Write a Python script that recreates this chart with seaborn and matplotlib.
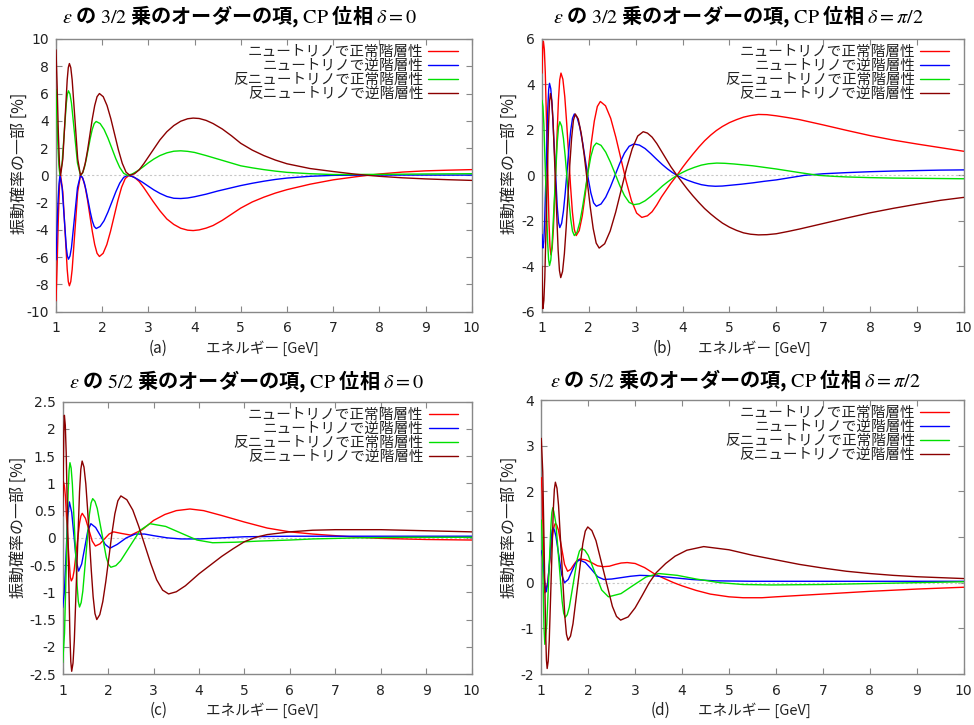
import numpy as np
import pandas as pd
import matplotlib
matplotlib.use("Agg")
import matplotlib.pyplot as plt
from matplotlib.ticker import FuncFormatter
import seaborn as sns

# ---------------- data (energy [GeV], part of oscillation probability [%]) -------------
# panel (a): eps^{3/2}, delta = 0
a_red_E = [1.00, 1.025, 1.05, 1.075, 1.10, 1.1475, 1.195, 1.2425, 1.266, 1.29, 1.32, 1.35, 1.41, 1.47, 1.53, 1.581, 1.633, 1.684, 1.735, 1.786, 1.838, 1.889, 1.94, 2.02, 2.10, 2.18, 2.26, 2.34, 2.42, 2.50, 2.58, 2.7, 2.8, 2.9, 3.0, 3.1, 3.25, 3.4, 3.55, 3.7, 3.85, 3.97, 4.1, 4.25, 4.4, 4.6, 4.8, 5.0, 5.25, 5.5, 5.75, 6.0, 6.5, 7.0, 7.5, 7.75, 8.0, 8.5, 9.0, 9.5, 10.0]
a_red_P = [-9.2, -6.5, -3.2, -0.8, 0.0, -1.2, -4.05, -6.9, -7.79, -8.1, -7.79, -6.9, -4.05, -1.2, 0.0, -0.23, -0.87, -1.84, -2.98, -4.11, -5.08, -5.72, -5.95, -5.72, -5.08, -4.11, -2.98, -1.84, -0.87, -0.23, 0.0, -0.15, -0.45, -0.9, -1.4, -1.9, -2.6, -3.2, -3.6, -3.88, -4.02, -4.05, -4.0, -3.87, -3.68, -3.3, -2.85, -2.4, -1.95, -1.6, -1.3, -1.05, -0.65, -0.33, -0.1, 0.0, 0.1, 0.24, 0.33, 0.38, 0.42]
a_mar_E = [1.00, 1.025, 1.05, 1.075, 1.10, 1.1475, 1.195, 1.2425, 1.266, 1.29, 1.32, 1.35, 1.41, 1.47, 1.53, 1.581, 1.633, 1.684, 1.735, 1.786, 1.838, 1.889, 1.94, 2.0225, 2.105, 2.1875, 2.27, 2.3525, 2.435, 2.5175, 2.60, 2.7, 2.8, 2.9, 3.0, 3.1, 3.25, 3.4, 3.55, 3.7, 3.85, 3.97, 4.1, 4.25, 4.4, 4.6, 4.8, 5.0, 5.25, 5.5, 5.75, 6.0, 6.5, 7.0, 7.5, 7.75, 8.0, 8.5, 9.0, 9.5, 10.0]
a_mar_P = [9.2, 6.5, 3.2, 0.8, 0.0, 1.2, 4.1, 7.0, 7.9, 8.2, 7.9, 7.0, 4.1, 1.2, 0.0, 0.23, 0.88, 1.85, 3.0, 4.15, 5.12, 5.77, 6.0, 5.77, 5.12, 4.15, 3.0, 1.85, 0.88, 0.23, 0.0, 0.12, 0.4, 0.85, 1.35, 1.85, 2.6, 3.2, 3.65, 3.97, 4.15, 4.2, 4.17, 4.03, 3.8, 3.4, 2.9, 2.35, 1.85, 1.45, 1.12, 0.85, 0.5, 0.28, 0.08, 0.0, -0.07, -0.18, -0.26, -0.32, -0.37]
a_blue_E = [1.00, 1.02, 1.04, 1.065, 1.086, 1.132, 1.178, 1.224, 1.247, 1.27, 1.3025, 1.335, 1.40, 1.465, 1.53, 1.5725, 1.615, 1.6575, 1.70, 1.7425, 1.785, 1.8275, 1.87, 1.955, 2.04, 2.125, 2.21, 2.295, 2.38, 2.465, 2.55, 2.65, 2.75, 2.87, 3.0, 3.12, 3.25, 3.4, 3.55, 3.7, 3.85, 4.0, 4.25, 4.5, 4.75, 5.0, 5.25, 5.5, 5.75, 6.0, 6.5, 7.0, 8.0, 9.0, 10.0]
a_blue_P = [-6.2, -4.2, -2.2, -0.6, 0.0, -0.9, -3.1, -5.3, -5.92, -6.15, -5.92, -5.3, -3.1, -0.9, 0.0, -0.15, -0.57, -1.21, -1.95, -2.69, -3.33, -3.75, -3.9, -3.75, -3.33, -2.69, -1.95, -1.21, -0.57, -0.15, 0.0, -0.08, -0.25, -0.5, -0.8, -1.07, -1.32, -1.55, -1.68, -1.7, -1.66, -1.57, -1.38, -1.15, -0.95, -0.75, -0.58, -0.43, -0.3, -0.2, -0.07, 0.0, 0.02, 0.02, 0.02]
a_green_E = [1.00, 1.02, 1.04, 1.065, 1.086, 1.132, 1.178, 1.224, 1.247, 1.27, 1.3025, 1.335, 1.40, 1.465, 1.53, 1.5725, 1.615, 1.6575, 1.70, 1.7425, 1.785, 1.8275, 1.87, 1.955, 2.04, 2.125, 2.21, 2.295, 2.38, 2.465, 2.55, 2.65, 2.75, 2.87, 3.0, 3.12, 3.25, 3.4, 3.55, 3.7, 3.85, 4.0, 4.25, 4.5, 4.75, 5.0, 5.25, 5.5, 5.75, 6.0, 6.5, 7.0, 8.0, 9.0, 10.0]
a_green_P = [6.3, 4.3, 2.3, 0.6, 0.0, 0.9, 3.1, 5.3, 5.96, 6.2, 5.96, 5.3, 3.1, 0.9, 0.0, 0.15, 0.58, 1.22, 1.98, 2.73, 3.37, 3.8, 3.95, 3.8, 3.37, 2.73, 1.98, 1.22, 0.58, 0.15, 0.0, 0.1, 0.3, 0.58, 0.92, 1.2, 1.45, 1.65, 1.77, 1.8, 1.76, 1.68, 1.45, 1.2, 0.95, 0.7, 0.55, 0.42, 0.31, 0.22, 0.12, 0.06, 0.07, 0.1, 0.12]

# panel (b): eps^{3/2}, delta = pi/2
b_red_E = [1.0, 1.015, 1.03, 1.05, 1.07, 1.11, 1.15, 1.17, 1.19, 1.217, 1.244, 1.2975, 1.351, 1.378, 1.405, 1.4456, 1.4863, 1.5269, 1.5675, 1.6081, 1.6488, 1.6894, 1.73, 1.7944, 1.8588, 1.9231, 1.9875, 2.0519, 2.1163, 2.1806, 2.245, 2.3556, 2.4663, 2.5769, 2.6875, 2.7981, 2.9088, 3.0194, 3.13, 3.25, 3.35, 3.45, 3.55, 3.65, 3.75, 3.88, 4.0, 4.1, 4.22, 4.35, 4.47, 4.6, 4.72, 4.85, 5.0, 5.15, 5.3, 5.45, 5.62, 5.8, 6.0, 6.25, 6.5, 7.0, 7.5, 8.0, 8.5, 9.0, 9.5, 10.0]
b_red_P = [4.5, 5.6, 5.9, 5.54, 4.53, 1.2, -2.13, -3.14, -3.5, -3.2, -2.33, 0.5, 3.33, 4.2, 4.5, 4.23, 3.46, 2.29, 0.93, -0.44, -1.61, -2.38, -2.65, -2.43, -1.79, -0.83, 0.3, 1.43, 2.39, 3.03, 3.25, 3.06, 2.51, 1.67, 0.7, -0.27, -1.11, -1.66, -1.85, -1.78, -1.6, -1.3, -0.95, -0.65, -0.35, 0.0, 0.35, 0.62, 0.93, 1.25, 1.52, 1.77, 1.97, 2.15, 2.32, 2.45, 2.56, 2.63, 2.68, 2.67, 2.62, 2.54, 2.45, 2.22, 1.98, 1.75, 1.55, 1.38, 1.22, 1.06]
b_blue_E = [1.0, 1.01, 1.02, 1.0375, 1.055, 1.09, 1.125, 1.1425, 1.16, 1.1875, 1.215, 1.27, 1.325, 1.3525, 1.38, 1.4188, 1.4575, 1.4963, 1.535, 1.5738, 1.6125, 1.6513, 1.69, 1.7488, 1.8075, 1.8663, 1.925, 1.9838, 2.0425, 2.1013, 2.16, 2.26, 2.36, 2.46, 2.56, 2.66, 2.76, 2.86, 2.96, 3.08, 3.2, 3.32, 3.45, 3.57, 3.68, 3.78, 3.88, 4.0, 4.1, 4.25, 4.4, 4.55, 4.7, 4.85, 5.0, 5.25, 5.5, 5.75, 6.0, 6.3, 6.6, 7.0, 7.5, 8.0, 8.5, 9.0, 9.5, 10.0]
b_blue_P = [-2.6, -3.0, -3.2, -2.92, -2.14, 0.43, 2.99, 3.77, 4.05, 3.81, 3.12, 0.88, -1.37, -2.06, -2.3, -2.11, -1.57, -0.76, 0.2, 1.16, 1.97, 2.51, 2.7, 2.55, 2.11, 1.45, 0.67, -0.11, -0.77, -1.21, -1.36, -1.26, -0.96, -0.51, 0.01, 0.53, 0.98, 1.28, 1.38, 1.33, 1.18, 0.96, 0.7, 0.47, 0.28, 0.13, 0.0, -0.12, -0.21, -0.32, -0.41, -0.46, -0.48, -0.47, -0.44, -0.39, -0.33, -0.26, -0.2, -0.1, 0.0, 0.07, 0.12, 0.16, 0.19, 0.21, 0.23, 0.24]
b_green_E = [1.0, 1.02, 1.04, 1.08, 1.12, 1.14, 1.16, 1.1875, 1.215, 1.27, 1.325, 1.3525, 1.38, 1.4188, 1.4575, 1.4963, 1.535, 1.5738, 1.6125, 1.6513, 1.69, 1.7488, 1.8075, 1.8663, 1.925, 1.9838, 2.0425, 2.1013, 2.16, 2.26, 2.36, 2.46, 2.56, 2.66, 2.76, 2.86, 2.96, 3.08, 3.2, 3.32, 3.45, 3.57, 3.68, 3.78, 3.88, 4.0, 4.1, 4.25, 4.4, 4.55, 4.73, 4.9, 5.1, 5.3, 5.5, 5.75, 6.0, 6.25, 6.5, 6.7, 6.9, 7.2, 7.5, 8.0, 8.5, 9.0, 9.5, 10.0]
b_green_P = [3.3, 3.02, 2.24, -0.34, -2.91, -3.69, -3.97, -3.73, -3.05, -0.81, 1.44, 2.12, 2.36, 2.17, 1.63, 0.81, -0.15, -1.1, -1.92, -2.46, -2.65, -2.5, -2.06, -1.39, -0.62, 0.16, 0.83, 1.27, 1.42, 1.32, 1.02, 0.58, 0.07, -0.45, -0.89, -1.19, -1.29, -1.25, -1.12, -0.93, -0.7, -0.47, -0.29, -0.14, 0.0, 0.13, 0.23, 0.35, 0.45, 0.51, 0.54, 0.53, 0.5, 0.46, 0.42, 0.35, 0.28, 0.2, 0.12, 0.06, 0.0, -0.04, -0.07, -0.1, -0.12, -0.13, -0.14, -0.15]
b_mar_E = [1.0, 1.01, 1.02, 1.04, 1.06, 1.10, 1.14, 1.16, 1.18, 1.2075, 1.235, 1.29, 1.345, 1.3725, 1.40, 1.4388, 1.4775, 1.5163, 1.555, 1.5938, 1.6325, 1.6713, 1.71, 1.7738, 1.8375, 1.9013, 1.965, 2.0288, 2.0925, 2.1563, 2.22, 2.3375, 2.455, 2.5725, 2.69, 2.8075, 2.925, 3.0425, 3.16, 3.25, 3.35, 3.45, 3.55, 3.65, 3.75, 3.88, 4.0, 4.1, 4.22, 4.35, 4.47, 4.6, 4.72, 4.85, 5.0, 5.15, 5.3, 5.45, 5.62, 5.8, 6.0, 6.25, 6.5, 7.0, 7.5, 8.0, 8.5, 9.0, 9.5, 10.0]
b_mar_P = [-4.0, -5.3, -5.86, -5.5, -4.48, -1.13, 2.22, 3.24, 3.6, 3.29, 2.42, -0.45, -3.32, -4.19, -4.5, -4.23, -3.45, -2.28, -0.9, 0.48, 1.65, 2.43, 2.7, 2.48, 1.84, 0.88, -0.25, -1.38, -2.34, -2.98, -3.2, -3.01, -2.45, -1.62, -0.64, 0.34, 1.17, 1.73, 1.92, 1.86, 1.68, 1.4, 1.06, 0.72, 0.38, 0.0, -0.33, -0.6, -0.9, -1.2, -1.46, -1.7, -1.9, -2.1, -2.28, -2.42, -2.53, -2.59, -2.62, -2.61, -2.57, -2.47, -2.36, -2.12, -1.88, -1.65, -1.45, -1.27, -1.1, -0.97]

# panel (c): eps^{5/2}, delta = 0
c_red_E = [1.0, 1.015, 1.037, 1.06, 1.10, 1.15, 1.168, 1.19, 1.22, 1.25, 1.31, 1.37, 1.40, 1.43, 1.50, 1.575, 1.65, 1.72, 1.82, 1.92, 2.02, 2.12, 2.3, 2.5, 2.75, 3.0, 3.25, 3.5, 3.8, 4.1, 4.5, 5.0, 5.5, 6.0, 6.5, 7.0, 7.5, 8.0, 9.0, 10.0]
c_red_P = [0.75, 1.03, 0.96, 0.76, 0.12, -0.52, -0.72, -0.79, -0.74, -0.61, -0.17, 0.27, 0.4, 0.45, 0.36, 0.15, -0.06, -0.15, -0.11, -0.02, 0.07, 0.11, 0.08, 0.05, 0.15, 0.32, 0.43, 0.5, 0.53, 0.5, 0.41, 0.29, 0.18, 0.11, 0.07, 0.04, 0.01, -0.01, -0.03, -0.04]
c_blue_E = [1.0, 1.037, 1.0735, 1.11, 1.147, 1.198, 1.2485, 1.299, 1.35, 1.4175, 1.485, 1.5525, 1.62, 1.725, 1.83, 1.935, 2.04, 2.2, 2.4, 2.6, 2.8, 3.0, 3.3, 3.6, 4.0, 4.5, 5.0, 6.0, 8.0, 10.0]
c_blue_P = [-1.28, -1.0, -0.31, 0.38, 0.66, 0.47, 0.03, -0.42, -0.61, -0.48, -0.18, 0.13, 0.26, 0.19, 0.04, -0.12, -0.19, -0.12, 0.0, 0.07, 0.07, 0.04, 0.0, -0.02, -0.02, 0.0, 0.02, 0.03, 0.03, 0.03]
c_green_E = [1.0, 1.04, 1.08, 1.12, 1.14, 1.16, 1.186, 1.2125, 1.265, 1.3175, 1.344, 1.37, 1.406, 1.4425, 1.515, 1.5875, 1.624, 1.66, 1.71, 1.76, 1.86, 1.96, 2.01, 2.06, 2.17, 2.275, 2.49, 2.705, 2.92, 3.265, 3.61, 3.955, 4.3, 4.8, 5.3, 6.0, 6.5, 7.0, 7.5, 8.5, 10.0]
c_green_P = [-2.29, -1.75, -0.46, 0.84, 1.24, 1.38, 1.28, 0.99, 0.06, -0.88, -1.17, -1.27, -1.19, -0.98, -0.28, 0.43, 0.64, 0.72, 0.67, 0.54, 0.09, -0.36, -0.49, -0.54, -0.51, -0.42, -0.14, 0.14, 0.26, 0.21, 0.085, -0.04, -0.09, -0.08, -0.06, -0.04, -0.02, -0.01, 0.0, 0.01, 0.01]
c_mar_E = [1.0, 1.012, 1.025, 1.037, 1.057, 1.077, 1.1175, 1.158, 1.178, 1.198, 1.227, 1.2555, 1.313, 1.3705, 1.399, 1.428, 1.4683, 1.5085, 1.5488, 1.589, 1.6293, 1.6695, 1.7098, 1.75, 1.8163, 1.8825, 1.9488, 2.015, 2.0813, 2.1475, 2.2138, 2.28, 2.4113, 2.5425, 2.6738, 2.805, 2.9363, 3.0675, 3.1988, 3.33, 3.5, 3.7, 4.0, 4.25, 4.5, 4.75, 5.0, 5.25, 5.5, 6.0, 6.5, 7.0, 8.0, 9.0, 10.0]
c_mar_P = [0.4, 1.2, 1.95, 2.25, 2.07, 1.56, -0.1, -1.76, -2.27, -2.45, -2.3, -1.89, -0.52, 0.85, 1.26, 1.41, 1.3, 0.99, 0.51, -0.05, -0.6, -1.08, -1.39, -1.5, -1.41, -1.17, -0.8, -0.37, 0.07, 0.44, 0.68, 0.77, 0.7, 0.51, 0.21, -0.13, -0.47, -0.77, -0.96, -1.03, -0.99, -0.88, -0.66, -0.5, -0.34, -0.2, -0.07, 0.01, 0.06, 0.11, 0.14, 0.15, 0.15, 0.13, 0.11]

# panel (d): eps^{5/2}, delta = pi/2
d_red_E = [1.0, 1.02, 1.04, 1.06, 1.08, 1.135, 1.19, 1.245, 1.275, 1.3, 1.33, 1.365, 1.43, 1.495, 1.56, 1.625, 1.69, 1.755, 1.82, 1.945, 2.07, 2.195, 2.32, 2.45, 2.58, 2.7, 2.83, 3.0, 3.2, 3.4, 3.6, 3.82, 4.0, 4.3, 4.6, 5.0, 5.3, 5.7, 6.0, 7.0, 8.0, 9.0, 10.0]
d_red_P = [2.3, 1.93, 1.04, 0.15, -0.22, 0.0, 0.54, 1.08, 1.24, 1.3, 1.26, 1.15, 0.78, 0.4, 0.25, 0.29, 0.39, 0.48, 0.52, 0.5, 0.44, 0.37, 0.35, 0.36, 0.4, 0.43, 0.44, 0.42, 0.33, 0.2, 0.1, 0.0, -0.07, -0.17, -0.25, -0.31, -0.33, -0.33, -0.31, -0.25, -0.19, -0.14, -0.1]
d_blue_E = [1.0, 1.026, 1.0525, 1.079, 1.105, 1.141, 1.1775, 1.214, 1.232, 1.25, 1.28, 1.311, 1.3725, 1.434, 1.495, 1.574, 1.6525, 1.731, 1.81, 1.94, 2.07, 2.2, 2.33, 2.5, 2.7, 2.9, 3.1, 3.4, 3.8, 4.2, 4.7, 5.5, 7.0, 10.0]
d_blue_P = [0.7, 0.57, 0.25, -0.07, -0.2, 0.0, 0.5, 1.0, 1.15, 1.2, 1.15, 1.02, 0.6, 0.18, 0.0, 0.07, 0.25, 0.43, 0.5, 0.44, 0.29, 0.13, 0.07, 0.08, 0.11, 0.14, 0.16, 0.15, 0.11, 0.07, 0.04, 0.03, 0.03, 0.03]
d_green_E = [1.0, 1.019, 1.0375, 1.056, 1.075, 1.1175, 1.16, 1.2025, 1.224, 1.245, 1.268, 1.311, 1.3775, 1.444, 1.477, 1.51, 1.553, 1.596, 1.6825, 1.769, 1.812, 1.855, 1.927, 1.999, 2.1425, 2.286, 2.43, 2.6975, 2.965, 3.2325, 3.5, 3.9, 4.3, 4.8, 5.3, 5.9, 7.0, 8.0, 9.0, 10.0]
d_green_P = [1.37, 0.97, 0.01, -0.95, -1.35, -0.91, 0.15, 1.2, 1.53, 1.64, 1.55, 1.29, 0.44, -0.41, -0.67, -0.76, -0.70, -0.54, -0.01, 0.53, 0.69, 0.75, 0.71, 0.6, 0.22, -0.16, -0.31, -0.24, -0.055, 0.125, 0.2, 0.16, 0.08, 0.0, -0.04, -0.05, -0.04, -0.02, 0.0, 0.02]
d_mar_E = [1.0, 1.031, 1.0625, 1.094, 1.109, 1.125, 1.147, 1.169, 1.2125, 1.256, 1.278, 1.3, 1.334, 1.3675, 1.435, 1.5025, 1.536, 1.57, 1.6225, 1.675, 1.78, 1.885, 1.9375, 1.99, 2.0775, 2.165, 2.34, 2.515, 2.6025, 2.69, 2.85, 3.0, 3.15, 3.3, 3.45, 3.65, 3.85, 4.1, 4.46, 5.0, 5.5, 6.0, 6.5, 7.0, 7.5, 8.0, 8.5, 9.0, 9.5, 10.0]
d_mar_P = [3.16, 2.42, 0.64, -1.14, -1.69, -1.88, -1.72, -1.28, 0.16, 1.6, 2.04, 2.2, 2.07, 1.69, 0.47, -0.75, -1.13, -1.26, -1.17, -0.9, -0.02, 0.86, 1.13, 1.22, 1.14, 0.92, 0.2, -0.52, -0.74, -0.82, -0.75, -0.55, -0.28, 0.0, 0.22, 0.42, 0.58, 0.71, 0.79, 0.72, 0.6, 0.5, 0.4, 0.32, 0.25, 0.2, 0.16, 0.13, 0.11, 0.09]

LABELS = ["ニュートリノで正常階層性", "ニュートリノで逆階層性",
          "反ニュートリノで正常階層性", "反ニュートリノで逆階層性"]
COLORS = ["#ff0000", "#0000ff", "#00e000", "#8b0000"]

TITLES = [r"$\epsilon$ の $\mathrm{3/2}$ 乗のオーダーの項, $\mathrm{CP}$ 位相 $\delta\mathrm{=0}$",
          r"$\epsilon$ の $\mathrm{3/2}$ 乗のオーダーの項, $\mathrm{CP}$ 位相 $\delta\mathrm{=}\pi\mathrm{/2}$",
          r"$\epsilon$ の $\mathrm{5/2}$ 乗のオーダーの項, $\mathrm{CP}$ 位相 $\delta\mathrm{=0}$",
          r"$\epsilon$ の $\mathrm{5/2}$ 乗のオーダーの項, $\mathrm{CP}$ 位相 $\delta\mathrm{=}\pi\mathrm{/2}$"]
PANEL_TAGS = ["(a)", "(b)", "(c)", "(d)"]
YLIMS = [(-10, 10), (-6, 6), (-2.5, 2.5), (-2, 4)]
YSTEPS = [2, 2, 0.5, 1]
XTICKS = [1, 2, 3, 4, 5, 6, 7, 8, 9, 10]
XLABEL = "エネルギー [GeV]"
YLABEL = "振動確率の一部 [%]"

SERIES = {
    "a": [(a_red_E, a_red_P), (a_blue_E, a_blue_P), (a_green_E, a_green_P), (a_mar_E, a_mar_P)],
    "b": [(b_red_E, b_red_P), (b_blue_E, b_blue_P), (b_green_E, b_green_P), (b_mar_E, b_mar_P)],
    "c": [(c_red_E, c_red_P), (c_blue_E, c_blue_P), (c_green_E, c_green_P), (c_mar_E, c_mar_P)],
    "d": [(d_red_E, d_red_P), (d_blue_E, d_blue_P), (d_green_E, d_green_P), (d_mar_E, d_mar_P)],
}

rows = []
for panel, lst in SERIES.items():
    for lab, (E, P) in zip(LABELS, lst):
        assert len(E) == len(P), (panel, lab, len(E), len(P))
        for e, p in zip(E, P):
            rows.append({"panel": panel, "series": lab, "E": e, "P": p})
df = pd.DataFrame(rows)

# ---------------- style ----------------
sns.set_style("ticks")
plt.rcParams["font.family"] = ["Noto Sans CJK JP", "DejaVu Sans"]
plt.rcParams["axes.unicode_minus"] = False
plt.rcParams["mathtext.fontset"] = "stix"

W, H = 974, 725
fig = plt.figure(figsize=(W / 100, H / 100), dpi=100)

# axes boxes in pixels: left, top, right, bottom
BOX = [(56, 39, 471.7, 311.7), (542, 39, 963.7, 311.7),
       (62.7, 401.7, 471.7, 674), (541.3, 400, 963.7, 674)]
TITLE_POS = [(240, 17), (738, 17), (247, 382), (735, 381)]
YLAB_POS = [(19, 163), (509, 163), (18, 527), (509, 527)]
XLAB_POS = [(262, 348), (754, 348), (262, 710), (754, 710)]
TAG_POS = [(158, 348), (662, 348), (159, 710), (661, 710)]

fmt = FuncFormatter(lambda v, p: "%g" % v)

for k, panel in enumerate(["a", "b", "c", "d"]):
    l, t, r, b = BOX[k]
    ax = fig.add_axes([l / W, 1 - b / H, (r - l) / W, (b - t) / H])
    sub = df[df.panel == panel]
    ax.axhline(0, color="#c8c8c8", lw=0.8, ls=(0, (2, 2)), zorder=1)
    sns.lineplot(data=sub, x="E", y="P", hue="series", hue_order=LABELS,
                 palette=COLORS, estimator=None, sort=False, units="series",
                 lw=1.0, ax=ax, zorder=3)
    leg = ax.get_legend()
    handles = leg.legend_handles
    labels = [tx.get_text() for tx in leg.get_texts()]
    for h in handles:
        h.set_linewidth(1.0)
    ax.legend(handles, labels, loc="upper right", bbox_to_anchor=(0.966, 0.977),
              frameon=False, markerfirst=False, fontsize=10.5, handlelength=2.0,
              handletextpad=0.35, labelspacing=0.0, borderpad=0.0,
              borderaxespad=0.0, labelcolor="#222222")

    ax.set_xlim(1, 10)
    ax.set_ylim(*YLIMS[k])
    ax.set_xticks(XTICKS)
    lo, hi = YLIMS[k]
    ax.set_yticks(np.arange(lo, hi + YSTEPS[k] / 2, YSTEPS[k]))
    ax.yaxis.set_major_formatter(fmt)
    ax.set_xlabel("")
    ax.set_ylabel("")
    ax.tick_params(direction="in", length=4, width=0.8, color="#888888",
                   top=True, right=True, labelsize=10, labelcolor="#222222")
    ax.tick_params(axis="x", pad=7)
    ax.tick_params(axis="y", pad=5)
    for lab in ax.get_xticklabels() + ax.get_yticklabels():
        lab.set_family("DejaVu Sans")
    for s in ax.spines.values():
        s.set_color("#888888")
        s.set_linewidth(1.0)

    tx, ty = TITLE_POS[k]
    fig.text(tx / W, 1 - ty / H, TITLES[k], ha="center", va="center",
             fontsize=14.5, fontweight="bold", color="black")
    yx, yy = YLAB_POS[k]
    fig.text(yx / W, 1 - yy / H, YLABEL, rotation=90, ha="center", va="center",
             fontsize=11.5, color="#222222")
    xx, xy = XLAB_POS[k]
    fig.text(xx / W, 1 - xy / H, XLABEL, ha="center", va="center",
             fontsize=10.5, color="#222222")
    gx, gy = TAG_POS[k]
    fig.text(gx / W, 1 - gy / H, PANEL_TAGS[k], ha="center", va="center",
             fontsize=11, color="#222222")

fig.savefig("out.png", dpi=100, facecolor="white")
